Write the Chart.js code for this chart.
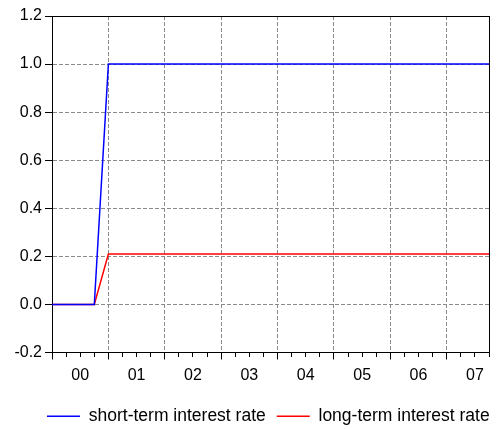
<!DOCTYPE html>
<html><head><meta charset="utf-8">
<script src="https://cdn.jsdelivr.net/npm/chart.js@4/dist/chart.umd.min.js"></script>
<style>html,body{margin:0;padding:0;background:#fff}canvas{display:block}</style>
</head><body>
<canvas id="c" width="496" height="429"></canvas>
<script>
const quarters = ['2000Q1','2000Q2','2000Q3','2000Q4','2001Q1','2001Q2','2001Q3','2001Q4',
  '2002Q1','2002Q2','2002Q3','2002Q4','2003Q1','2003Q2','2003Q3','2003Q4',
  '2004Q1','2004Q2','2004Q3','2004Q4','2005Q1','2005Q2','2005Q3','2005Q4',
  '2006Q1','2006Q2','2006Q3','2006Q4','2007Q1','2007Q2','2007Q3','2007Q4'];
const shortRate = [0,0,0,0,1,1,1,1, 1,1,1,1,1,1,1,1, 1,1,1,1,1,1,1,1, 1,1,1,1,1,1,1,1];
const longRate = [0,0,0,0,0.21,0.21,0.21,0.21, 0.21,0.21,0.21,0.21,0.21,0.21,0.21,0.21,
  0.21,0.21,0.21,0.21,0.21,0.21,0.21,0.21, 0.21,0.21,0.21,0.21,0.21,0.21,0.21,0.21];
const yearLabels = ['00','01','02','03','04','05','06','07'];
const yTicks = [-0.2,0,0.2,0.4,0.6,0.8,1.0,1.2];
const seriesNames = ['short-term interest rate','long-term interest rate'];

Chart.defaults.font.family = "'Liberation Sans', Arial, sans-serif";
Chart.defaults.color = '#000';
const GRID = '#8a8a8a';
const DASH = [4,2];

const legendShift = {
  id: 'legendShift',
  afterLayout(chart) {
    const l = chart.legend;
    if (!l) return;
    l.left += 36; l.right += 36;
    l.top += 6; l.bottom += 6;
  }
};

new Chart(document.getElementById('c'), {
  type: 'line',
  plugins: [legendShift],
  data: {
    labels: quarters,
    datasets: [
      {label: seriesNames[0], data: shortRate, borderColor: '#0000ff', backgroundColor: '#0000ff', borderWidth: 1.5, pointRadius: 0, tension: 0, xAxisID: 'x', yAxisID: 'y'},
      {label: seriesNames[1], data: longRate, borderColor: '#ff0000', backgroundColor: '#ff0000', borderWidth: 1.5, pointRadius: 0, tension: 0, xAxisID: 'x', yAxisID: 'y'}
    ]
  },
  options: {
    responsive: false,
    animation: false,
    events: [],
    layout: {padding: {top: 16, right: 7, left: 0, bottom: 0}},
    plugins: {
      tooltip: {enabled: false},
      legend: {
        position: 'bottom', align: 'start',
        labels: {
          usePointStyle: true, pointStyle: 'line', pointStyleWidth: 33,
          font: {size: 17.5}, padding: 11, color: '#000'
        }
      }
    },
    scales: {
      x: {
        type: 'category', position: 'bottom', weight: 0, offset: false,
        ticks: {display: false, autoSkip: false},
        grid: {
          offset: false, drawOnChartArea: true, drawTicks: true, tickLength: 7,
          color: c => (c.index > 0 && c.index < quarters.length - 1 && c.index % 4 === 0) ? GRID : 'rgba(0,0,0,0)',
          tickColor: '#000', tickWidth: 1,
          tickBorderDash: c => (c.index % 4 === 0) ? [] : [4, 100]
        },
        border: {display: true, color: '#000', width: 1, dash: DASH},
        afterFit: s => { s.height = 7; }
      },
      xLabels: {
        type: 'linear', position: 'bottom', weight: 1, min: 0, max: quarters.length - 1,
        afterBuildTicks: s => { s.ticks = yearLabels.map((_, i) => ({value: i * 4 + 2})); },
        ticks: {callback: (v, i) => yearLabels[i], font: {size: 16}, padding: 6, maxRotation: 0, autoSkip: false},
        grid: {display: false, drawTicks: false},
        border: {display: false},
        afterFit: s => { s.height = 31; }
      },
      xTop: {
        type: 'category', position: 'top', offset: false,
        ticks: {display: false}, grid: {display: false, drawTicks: false},
        border: {display: true, color: '#000', width: 1}
      },
      y: {
        type: 'linear', position: 'left', min: -0.2, max: 1.2,
        afterBuildTicks: s => { s.ticks = yTicks.map(v => ({value: v})); },
        ticks: {callback: v => v.toFixed(1), font: {size: 16}, padding: 3},
        grid: {
          drawTicks: true, tickLength: 7,
          color: c => (c.tick && c.tick.value > -0.2 + 1e-9 && c.tick.value < 1.2 - 1e-9) ? GRID : 'rgba(0,0,0,0)',
          tickColor: '#000'
        },
        border: {display: true, color: '#000', width: 1, dash: DASH},
        afterFit: s => { s.width = 52; }
      },
      yRight: {
        type: 'linear', position: 'right', min: -0.2, max: 1.2,
        ticks: {display: false}, grid: {display: false, drawTicks: false},
        border: {display: true, color: '#000', width: 1}
      }
    }
  }
});
</script>
</body></html>
